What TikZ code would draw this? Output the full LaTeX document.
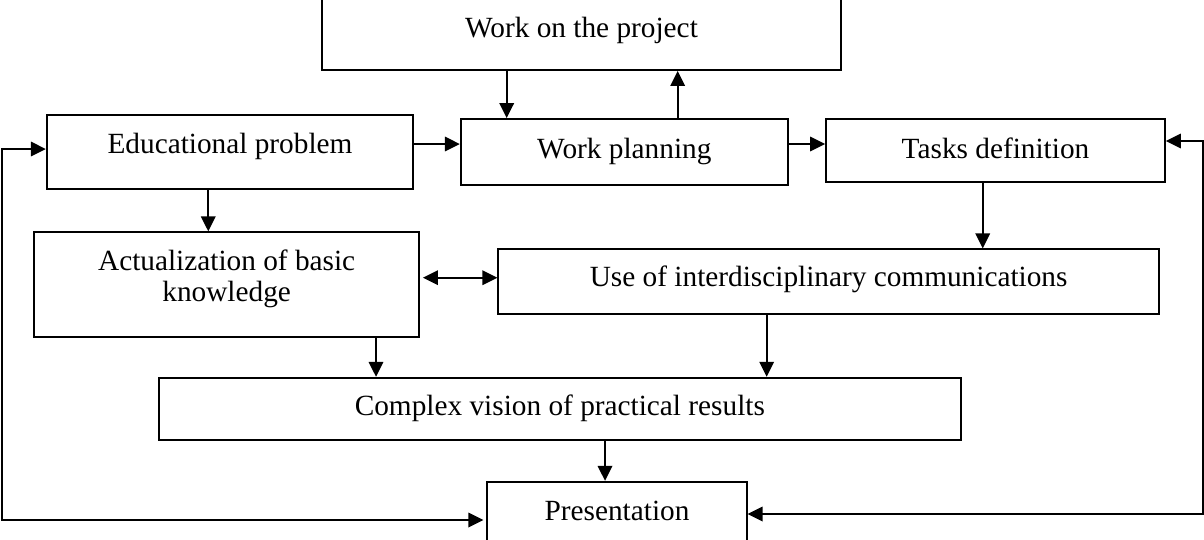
\documentclass[tikz,border=0pt]{standalone}
\usepackage{fontspec}
\setmainfont{Liberation Serif}
\usetikzlibrary{arrows.meta}
\begin{document}
\begin{tikzpicture}[x=1pt,y=-1pt,
  box/.style={draw, line width=1.8pt, inner sep=0pt, minimum width=#1},
  lbl/.style={anchor=base, inner sep=0pt, font=\fontsize{29.3}{33}\selectfont},
  arr/.style={line width=1.8pt, -{Triangle[length=15pt,width=14.5pt]}},
  arrb/.style={line width=1.8pt, {Triangle[length=15pt,width=14.5pt]}-{Triangle[length=15pt,width=14.5pt]}}]
\useasboundingbox (0,0) rectangle (1204,539);
% boxes
\node[box=519pt, minimum height=90pt] (wop) at (581.5,25) {};
\node[box=366.6pt, minimum height=74pt] (ep) at (230,152) {};
\node[box=327.3pt, minimum height=66pt] (wp) at (624.35,152) {};
\node[box=339pt, minimum height=63pt] (td) at (995.5,150.5) {};
\node[box=384.7pt, minimum height=105pt] (act) at (226.65,284.8) {};
\node[box=660.7pt, minimum height=65pt] (uic) at (828.65,281.8) {};
\node[box=802.3pt, minimum height=62.3pt] (cv) at (559.85,408.85) {};
\node[box=259.3pt, minimum height=98.3pt] (pres) at (617,530.85) {};
% texts
\node[lbl] (wopt) at (581.5,37) {Work on the project};
\node[lbl] (ept) at (230,153.3) {Educational problem};
\node[lbl] (wpt) at (624.35,158) {Work planning};
\node[lbl] (tdt) at (995.5,158) {Tasks definition};
\node[lbl] (act1) at (226.65,270) {Actualization of basic};
\node[lbl] (act2) at (226.65,301.5) {knowledge};
\node[lbl] (uict) at (828.65,286.7) {Use of interdisciplinary communications};
\node[lbl] (cvt) at (559.85,415) {Complex vision of practical results};
\node[lbl] (prest) at (617,520) {Presentation};
% helper coordinates
\coordinate (xa) at (506.7,0);
\coordinate (xb) at (677.7,0);
\coordinate (ya) at (0,144);
\coordinate (xc) at (208.3,0);
\coordinate (xd) at (982.7,0);
\coordinate (yb) at (0,277.7);
\coordinate (xe) at (376,0);
\coordinate (xf) at (766.7,0);
\coordinate (xg) at (605,0);
\coordinate (lt) at (1.7,149);
\coordinate (lb) at (1.7,520);
\coordinate (rt) at (1203,141);
\coordinate (rb) at (1203,514);
% connectors
\draw[arr] (wop.south -| xa) -- (wp.north -| xa);
\draw[arr] (wp.north -| xb) -- (wop.south -| xb);
\draw[arr] (ep.east |- ya) -- (wp.west |- ya);
\draw[arr] (wp.east |- ya) -- (td.west |- ya);
\draw[arr] (ep.south -| xc) -- (act.north -| xc);
\draw[arr] (td.south -| xd) -- (uic.north -| xd);
\draw[arrb, shorten <=3pt] (act.east |- yb) -- (uic.west |- yb);
\draw[arr] (act.south -| xe) -- (cv.north -| xe);
\draw[arr] (uic.south -| xf) -- (cv.north -| xf);
\draw[arr] (cv.south -| xg) -- (pres.north -| xg);
\draw[arrb, shorten >=3pt] (ep.west |- lt) -- (lt) -- (lb) -- (pres.west |- lb);
\draw[arrb] (td.east |- rt) -- (rt) -- (rb) -- (pres.east |- rb);
\end{tikzpicture}
\end{document}
